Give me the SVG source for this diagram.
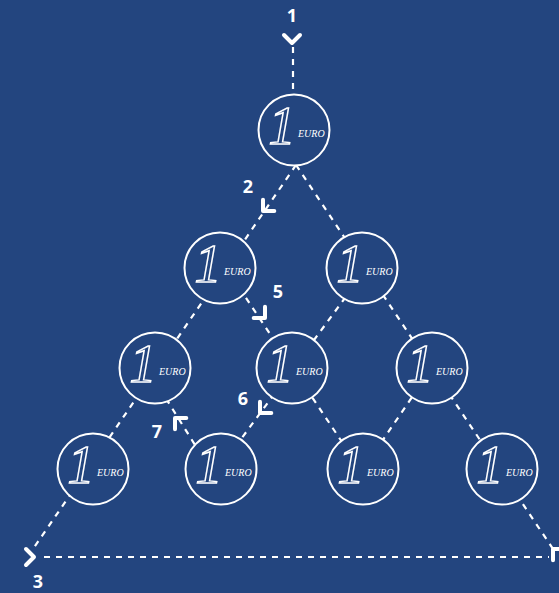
<svg xmlns="http://www.w3.org/2000/svg" width="559" height="593" viewBox="0 0 559 593">
<style>
.bg{fill:#23457f}
.edge{fill:none;stroke:#fff;stroke-width:2.2;stroke-dasharray:6 6}
.chev{fill:none;stroke:#fff;stroke-width:4;stroke-linecap:round;stroke-linejoin:round}
.coin{fill:#23457f;stroke:#fff;stroke-width:2}
.one{font-family:"Liberation Serif",serif;font-style:italic;font-size:54px;fill:#23457f;stroke:#fff;stroke-width:1.5;text-anchor:middle}
.euro{font-family:"Liberation Serif",serif;font-style:italic;font-size:10px;fill:#fff}
.lbl{font-family:"Open Sans","Noto Sans",sans-serif;font-weight:bold;font-size:18px;fill:#fff;text-anchor:middle}
</style>
<defs>
<path id="chev" d="M-8,-8 L0,0 L8,-8"/>
</defs>
<rect class="bg" x="0" y="0" width="559" height="593"/>
<g id="connectors">
<path class="edge" d="M293,47 V93"/>
<path class="edge" d="M296,165 L33,549"/>
<path class="edge" d="M296,165 L553,549"/>
<path class="edge" d="M44,557 H549"/>
<path class="edge" d="M226,268 L360,469"/>
<path class="edge" d="M147,368 L210,469"/>
<path class="edge" d="M367,268 L219,469"/>
<path class="edge" d="M432,368 L363,469"/>
<use href="#chev" class="chev" transform="translate(292,43)"/>
<use href="#chev" class="chev" transform="translate(263,211) rotate(45)"/>
<use href="#chev" class="chev" transform="translate(265,318) rotate(-45)"/>
<use href="#chev" class="chev" transform="translate(260,413) rotate(45)"/>
<use href="#chev" class="chev" transform="translate(175,418) rotate(135)"/>
<use href="#chev" class="chev" transform="translate(34,557) rotate(-90)"/>
<use href="#chev" class="chev" transform="translate(553,549) rotate(135)"/>
</g>
<g id="labels">
<text class="lbl" x="292" y="22">1</text>
<text class="lbl" x="248" y="193">2</text>
<text class="lbl" x="278" y="298">5</text>
<text class="lbl" x="243" y="405">6</text>
<text class="lbl" x="157" y="438">7</text>
<text class="lbl" x="38" y="588">3</text>
</g>
<g id="coin1" transform="translate(294,130)"><circle class="coin" r="35.5"/><text class="one" x="-12" y="14">1</text><text class="euro" x="4" y="7">EURO</text></g>
<g id="coin2" transform="translate(220,268)"><circle class="coin" r="35.5"/><text class="one" x="-12" y="14">1</text><text class="euro" x="4" y="7">EURO</text></g>
<g id="coin3" transform="translate(362,268)"><circle class="coin" r="35.5"/><text class="one" x="-12" y="14">1</text><text class="euro" x="4" y="7">EURO</text></g>
<g id="coin4" transform="translate(155,368)"><circle class="coin" r="35.5"/><text class="one" x="-12" y="14">1</text><text class="euro" x="4" y="7">EURO</text></g>
<g id="coin5" transform="translate(292,368)"><circle class="coin" r="35.5"/><text class="one" x="-12" y="14">1</text><text class="euro" x="4" y="7">EURO</text></g>
<g id="coin6" transform="translate(432,368)"><circle class="coin" r="35.5"/><text class="one" x="-12" y="14">1</text><text class="euro" x="4" y="7">EURO</text></g>
<g id="coin7" transform="translate(93,469)"><circle class="coin" r="35.5"/><text class="one" x="-12" y="14">1</text><text class="euro" x="4" y="7">EURO</text></g>
<g id="coin8" transform="translate(221,469)"><circle class="coin" r="35.5"/><text class="one" x="-12" y="14">1</text><text class="euro" x="4" y="7">EURO</text></g>
<g id="coin9" transform="translate(363,469)"><circle class="coin" r="35.5"/><text class="one" x="-12" y="14">1</text><text class="euro" x="4" y="7">EURO</text></g>
<g id="coin10" transform="translate(502,469)"><circle class="coin" r="35.5"/><text class="one" x="-12" y="14">1</text><text class="euro" x="4" y="7">EURO</text></g>
</svg>
